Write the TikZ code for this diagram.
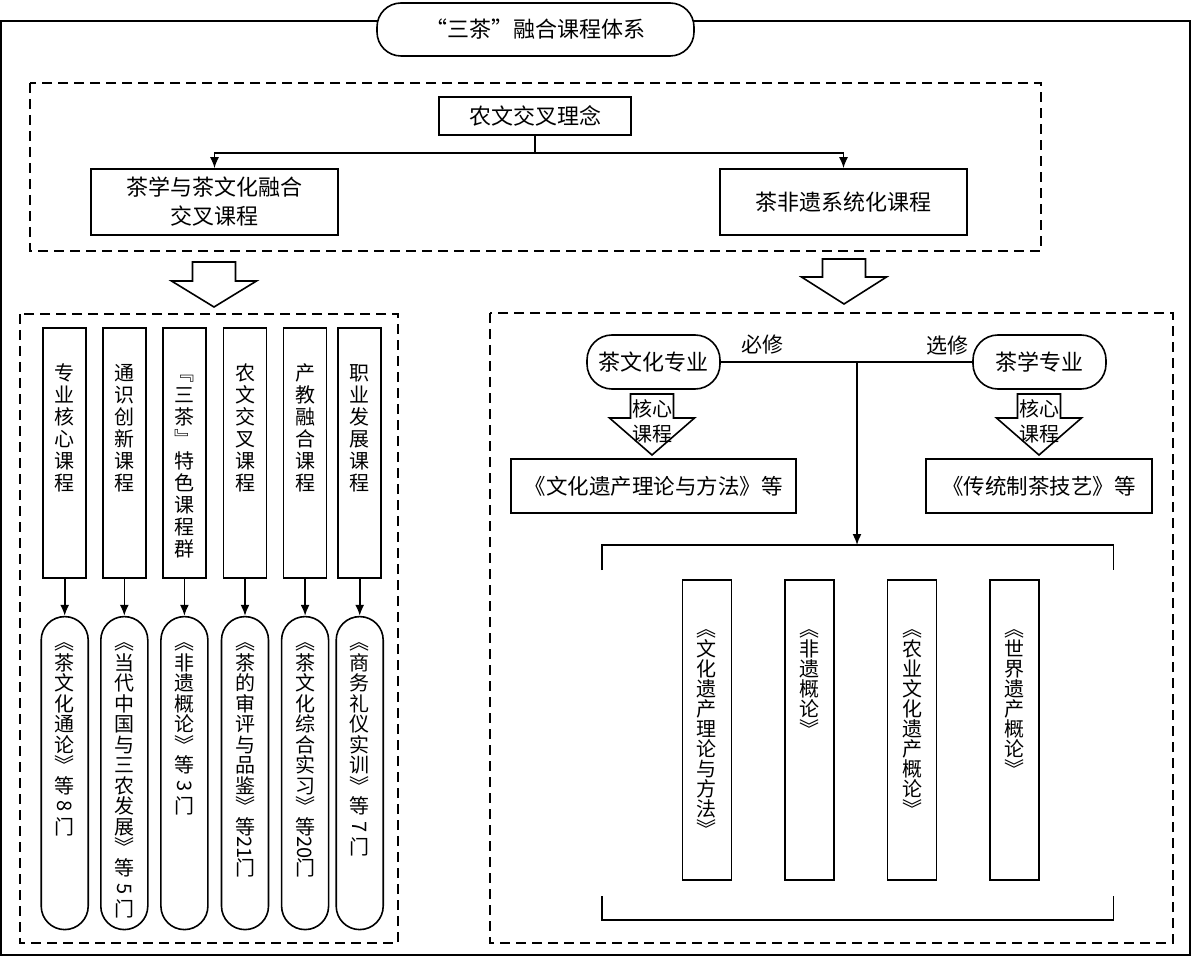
\documentclass[tikz,border=0pt]{standalone}
\usepackage{fontspec}
\setmainfont{Noto Sans CJK SC}
\usetikzlibrary{positioning,arrows.meta}

\makeatletter
\newcommand\vstack[2][21.5pt]{\vtop{\baselineskip=#1\lineskiplimit=-100pt\@tfor\vchar:=#2\do{\hbox to 22pt{\hss\vchar\hss}}}}
\makeatother
\newcommand\hollowarrow[4]{%
  \draw (#1-21.5,#2) -- (#1+21.5,#2) -- (#1+21.5,#3) -- (#1+42.5,#3)
    -- (#1,#4) -- (#1-42.5,#3) -- (#1-21.5,#3) -- cycle;}

\begin{document}
\begin{tikzpicture}[x=1pt, y=-1pt, line width=1.6pt,
    font=\fontsize{22}{29}\selectfont,
    >={Latex[length=11pt,width=9pt]},
    box/.style={draw, inner sep=0pt},
    pill/.style={draw, rounded corners=25pt, inner sep=0pt},
    dashbox/.style={dashed, dash pattern=on 10pt off 6pt},
    col/.style={draw, inner sep=0pt, minimum width=43pt, minimum height=250pt,
        text height=53pt, text depth=197pt, font=\fontsize{20}{22}\selectfont},
    capsule/.style={draw, rounded corners=23.5pt, inner sep=0pt, minimum width=47pt,
        minimum height=313pt, text height=33pt, text depth=280pt, font=\fontsize{20}{22}\selectfont},
    book/.style={draw, inner sep=0pt, minimum width=49pt, minimum height=300pt,
        text height=56pt, text depth=244pt, font=\fontsize{20}{22}\selectfont}]
    \useasboundingbox (0,0) rectangle (1191,957);

    \draw[line width=2pt] (1,21) rectangle (1190,955);
    \node[pill, fill=white, rounded corners=24pt, minimum width=317pt, minimum height=53pt] (title) at (535.5,29.5) {“三茶”融合课程体系};

    \draw[dashbox] (30,83) rectangle (1041,251);
    \node[box, minimum width=192pt, minimum height=38pt] (idea) at (535,116) {农文交叉理念};
    \node[box, minimum width=247pt, minimum height=66pt, align=center] (fusion) at (214.5,202) {茶学与茶文化融合\\交叉课程};
    \node[box, minimum width=247pt, minimum height=66pt] (heritage) at (843.5,202) {茶非遗系统化课程};
    \draw[->] (idea.south) -- ++(0,17) -| (fusion.north);
    \draw[->] (idea.south) -- ++(0,17) -| (heritage.north);

    \hollowarrow{214}{262}{281}{307}
    \hollowarrow{844}{259}{277}{304}

    \draw[dashbox] (20,314) rectangle (398,943);
    \node[col] (core) at (64.7,453) {\vstack[22pt]{专业核心课程}};
    \node[col, right=15pt of core] (general) {\vstack[22pt]{通识创新课程}};
    \node[col, right=15.5pt of general] (special) {\vstack[22pt]{﹃三茶﹄特色课程群}};
    \node[col, right=16pt of special] (cross) {\vstack[22pt]{农文交叉课程}};
    \node[col, right=15.5pt of cross] (industry) {\vstack[22pt]{产教融合课程}};
    \node[col, right=10pt of industry] (career) {\vstack[22pt]{职业发展课程}};

    \node[capsule, below=37pt of core] (tea) {\vstack[20.5pt]{︽茶文化通论︾等{\rotatebox[origin=c]{-90}{8}}门}};
    \node[capsule, below=37pt of general] (china) {\vstack[20.5pt]{︽当代中国与三农发展︾等{\rotatebox[origin=c]{-90}{5}}门}};
    \node[capsule, below=37pt of special] (ich) {\vstack[20.5pt]{︽非遗概论︾等{\rotatebox[origin=c]{-90}{3}}门}};
    \node[capsule, below=37pt of cross] (taste) {\vstack[20.5pt]{︽茶的审评与品鉴︾等{\rotatebox[origin=c]{-90}{21}}门}};
    \node[capsule, below=37pt of industry] (practice) {\vstack[20.5pt]{︽茶文化综合实习︾等{\rotatebox[origin=c]{-90}{20}}门}};
    \node[capsule, below=37pt of career] (etiquette) {\vstack[20.5pt]{︽商务礼仪实训︾等{\rotatebox[origin=c]{-90}{7}}门}};

    \draw[->] (core.south) -- (tea.north);
    \draw[->] (general.south) -- (china.north);
    \draw[->] (special.south) -- (ich.north);
    \draw[->] (cross.south) -- (taste.north);
    \draw[->] (industry.south) -- (practice.north);
    \draw[->] (career.south) -- (etiquette.north);

    \draw[dashbox] (490,313) rectangle (1173,943);
    \node[pill, minimum width=133pt, minimum height=54pt] (culture) at (653.5,362) {茶文化专业};
    \node[pill, minimum width=133pt, minimum height=54pt] (science) at (1039.5,362) {茶学专业};
    \coordinate (split) at (857,362);
    \draw (culture) -- (science);
    \node[font=\fontsize{21}{25}\selectfont] (required) at (762,345) {必修};
    \node[font=\fontsize{21}{25}\selectfont] (elective) at (947,346) {选修};

    \hollowarrow{652}{394}{418}{455}
    \hollowarrow{1039}{394}{418}{455}
    \node[align=center, font=\fontsize{20}{25}\selectfont] (corea) at (652,421) {核心\\课程};
    \node[align=center, font=\fontsize{20}{25}\selectfont] (coreb) at (1039,421) {核心\\课程};
    \node[box, minimum width=285pt, minimum height=54pt, font=\fontsize{21.5}{25}\selectfont] (method) at (653.5,486) {《文化遗产理论与方法》等};
    \node[box, minimum width=226pt, minimum height=54pt, font=\fontsize{21.5}{25}\selectfont] (craft) at (1039,486) {《传统制茶技艺》等};

    \coordinate (bracket) at (857,545);
    \draw[->] (split) -- (bracket);
    \draw (602,570) -- (602,545) -- (1113.5,545) -- (1113.5,570);
    \draw (602,896) -- (602,920) -- (1113.5,920) -- (1113.5,896);

    \node[book] (theory) at (706.8,730) {\vstack[20pt]{︽文化遗产理论与方法︾}};
    \node[book, right=52pt of theory] (intro) {\vstack[20pt]{︽非遗概论︾}};
    \node[book, right=52pt of intro] (agri) {\vstack[20pt]{︽农业文化遗产概论︾}};
    \node[book, right=52pt of agri] (world) {\vstack[20pt]{︽世界遗产概论︾}};
\end{tikzpicture}
\end{document}
